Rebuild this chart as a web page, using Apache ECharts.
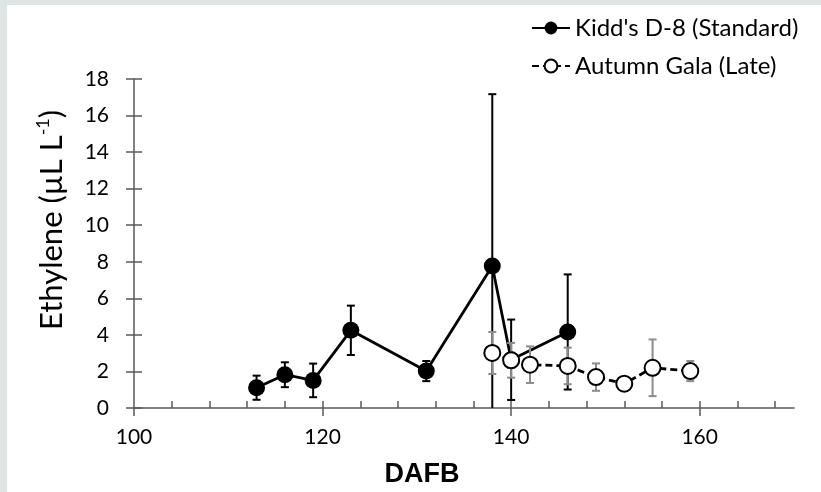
<!DOCTYPE html>
<html>
<head>
<meta charset="utf-8">
<script src="https://cdn.jsdelivr.net/npm/echarts@6/dist/echarts.min.js"></script>
<style>
  html, body { margin: 0; padding: 0; background: #fff; }
  #chart { width: 821px; height: 492px; }
</style>
</head>
<body>
<div id="chart"></div>
<script>
// Kidd's D-8 (Standard)
var kiddX = [113, 116, 119, 123, 131, 138, 140, 146]
var kiddY = [1.11, 1.82, 1.51, 4.25, 2.02, 7.77, 2.64, 4.16]
var kiddErr = [0.66, 0.68, 0.92, 1.35, 0.55, 9.4, 2.2, 3.15]
// Autumn Gala (Late)
var galaX = [138, 140, 142, 146, 149, 152, 155, 159]
var galaY = [3.01, 2.61, 2.37, 2.3, 1.69, 1.33, 2.2, 2.02]
var galaErr = [1.15, 0.95, 1.0, 1.0, 0.75, 0.35, 1.55, 0.55]
// axis ticks
var xMajor = [100, 120, 140, 160]
var xMinor = [104, 108, 112, 116, 120, 124, 128, 132, 136, 140, 144, 148, 152, 156, 160, 164, 168]

var axisColor = '#595959'
var font = 'Lato'

function pairs(xs, ys, es) {
    return xs.map(function (x, i) { return es ? [x, ys[i], es[i]] : [x, ys[i]] })
}

function errorBars(color) {
    return function (params, api) {
        var x = api.value(0), y = api.value(1), e = api.value(2)
        var lo = Math.max(0, y - e)
        var top = api.coord([x, y + e])
        var bot = api.coord([x, lo])
        var w = 4
        var style = { stroke: color, lineWidth: 2 }
        var kids = [
            { type: 'line', shape: { x1: top[0], y1: top[1], x2: bot[0], y2: bot[1] }, style: style },
            { type: 'line', shape: { x1: top[0] - w, y1: top[1], x2: top[0] + w, y2: top[1] }, style: style }
        ]
        if (y - e > 0) {
            kids.push({ type: 'line', shape: { x1: bot[0] - w, y1: bot[1], x2: bot[0] + w, y2: bot[1] }, style: style })
        }
        return { type: 'group', children: kids }
    }
}

var chart = echarts.init(document.getElementById('chart'))
chart.setOption({
    animation: false,
    backgroundColor: '#fff',
    grid: { left: 134, right: 27, top: 79, bottom: 84 },
    legend: {
        orient: 'vertical',
        left: 526,
        top: 11,
        itemWidth: 38,
        itemHeight: 16,
        itemGap: 14,
        textStyle: { fontFamily: font, fontSize: 24, color: '#000' },
        data: ["Kidd's D-8 (Standard)", 'Autumn Gala (Late)']
    },
    xAxis: [{
        type: 'value', min: 100, max: 170,
        splitLine: { show: false },
        axisLine: { lineStyle: { color: axisColor, width: 1.5 } },
        axisTick: { length: 8, customValues: xMajor, lineStyle: { color: axisColor, width: 1.5 } },
        axisLabel: { customValues: xMajor, margin: 19, fontFamily: font, fontSize: 21, color: '#000' }
    }, {
        type: 'value', min: 100, max: 170, position: 'bottom',
        splitLine: { show: false },
        axisLine: { show: false },
        axisLabel: { show: false },
        axisTick: { inside: true, length: 7, customValues: xMinor, lineStyle: { color: axisColor, width: 1.5 } }
    }],
    yAxis: [{
        type: 'value', min: 0, max: 18, interval: 2,
        splitLine: { show: false },
        axisLine: { show: true, lineStyle: { color: axisColor, width: 1.5 } },
        axisTick: { show: true, length: 8, lineStyle: { color: axisColor, width: 1.5 } },
        axisLabel: { margin: 25, fontFamily: font, fontSize: 21, color: '#000' }
    }, {
        type: 'value', min: 0, max: 18, interval: 2, position: 'left',
        splitLine: { show: false },
        axisLine: { show: false },
        axisLabel: { show: false },
        axisTick: { show: true, inside: true, length: 8, lineStyle: { color: axisColor, width: 1.5 } }
    }],
    graphic: [
        { type: 'rect', shape: { x: 0, y: 0, width: 7, height: 492 }, style: { fill: '#dfe4e5' } },
        { type: 'rect', shape: { x: 0, y: 0, width: 821, height: 5 }, style: { fill: '#dfe4e5' } },
        {
            type: 'text', x: 422, y: 475,
            style: { text: 'DAFB', font: 'bold 27px "Liberation Sans"', fill: '#000', align: 'center', verticalAlign: 'middle' }
        },
        {
            type: 'text', x: 52, y: 220, rotation: Math.PI / 2,
            style: {
                text: 'Ethylene (µL L{sup|-1})',
                fontFamily: font, fontSize: 31, fill: '#000',
                align: 'center', verticalAlign: 'middle',
                rich: { sup: { fontFamily: font, fontSize: 18, verticalAlign: 'top', lineHeight: 36, padding: [0, 0, 14, 0] } }
            }
        }
    ],
    series: [{
        name: 'kiddErr', type: 'custom', z: 2,
        renderItem: errorBars('#000'),
        encode: { x: 0, y: 1 },
        data: pairs(kiddX, kiddY, kiddErr)
    }, {
        name: "Kidd's D-8 (Standard)", type: 'line', z: 3,
        symbol: 'circle', symbolSize: 17,
        itemStyle: { color: '#000' },
        lineStyle: { color: '#000', width: 2.8 },
        data: pairs(kiddX, kiddY)
    }, {
        name: 'galaErr', type: 'custom', z: 4,
        renderItem: errorBars('#8c8c8c'),
        encode: { x: 0, y: 1 },
        data: pairs(galaX, galaY, galaErr)
    }, {
        name: 'Autumn Gala (Late)', type: 'line', z: 5,
        symbol: 'circle', symbolSize: 16,
        itemStyle: { color: '#fff', borderColor: '#000', borderWidth: 2 },
        lineStyle: { color: '#000', width: 2.8, type: [7, 4] },
        data: pairs(galaX, galaY)
    }]
})
</script>
</body>
</html>
